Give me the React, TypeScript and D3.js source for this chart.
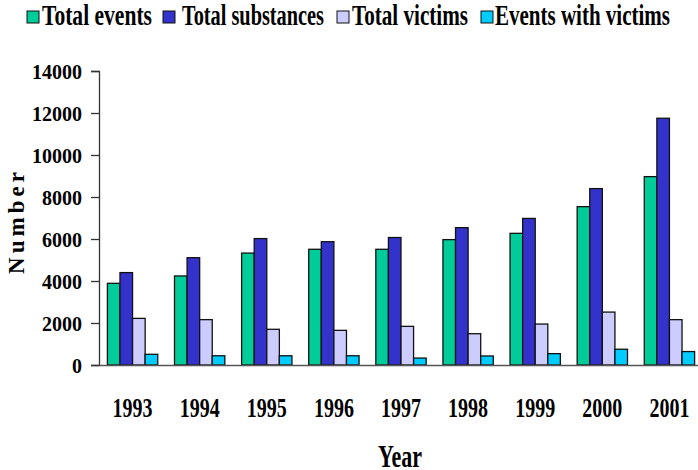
import React, { useEffect, useRef } from "react";
import * as d3 from "d3";

const years = ["1993", "1994", "1995", "1996", "1997", "1998", "1999", "2000", "2001"];
const seriesNames = ["Total events", "Total substances", "Total victims", "Events with victims"];
const totalEvents = [3890, 4240, 5330, 5510, 5510, 5970, 6270, 7540, 8970];
const totalSubstances = [4400, 5110, 6020, 5870, 6070, 6540, 6980, 8400, 11750];
const totalVictims = [2220, 2160, 1700, 1650, 1840, 1490, 1950, 2520, 2160];
const eventsWithVictims = [510, 440, 440, 440, 330, 430, 540, 750, 640];
const yTicks = [0, 2000, 4000, 6000, 8000, 10000, 12000, 14000];
const colors = ["#00CC99", "#3333CC", "#CCCCFF", "#00CCFF"];

const App = () => {
  const svgRef = useRef<SVGSVGElement>(null);

  useEffect(() => {
    const width = 698,
      height = 470;
    const font = "'Liberation Serif', 'Times New Roman', serif";

    const svg = d3.select(svgRef.current);
    svg.selectAll("*").remove();
    svg.attr("width", width).attr("height", height);

    const values = [totalEvents, totalSubstances, totalVictims, eventsWithVictims];

    const x = d3
      .scaleBand()
      .domain(years)
      .range([99, 703])
      .paddingInner(0.25)
      .paddingOuter(0.125);

    const xSub = d3
      .scaleBand()
      .domain(seriesNames)
      .range([0, x.bandwidth()])
      .padding(0);

    const y = d3.scaleLinear().domain([0, 14000]).range([365, 71]);

    // bars
    const groups = svg
      .append("g")
      .selectAll("g")
      .data(years)
      .join("g")
      .attr("transform", (d) => `translate(${x(d)},0)`);

    groups
      .selectAll("rect")
      .data((d) => seriesNames.map((s, j) => ({ s, v: values[j][years.indexOf(d)], j })))
      .join("rect")
      .attr("x", (d) => xSub(d.s)!)
      .attr("y", (d) => y(d.v))
      .attr("width", xSub.bandwidth())
      .attr("height", (d) => y(0) - y(d.v))
      .attr("fill", (d) => colors[d.j])
      .attr("stroke", "#111")
      .attr("stroke-width", 1.3);

    // y axis
    const yAxis = svg
      .append("g")
      .attr("transform", "translate(99,0)")
      .call(d3.axisLeft(y).tickValues(yTicks).tickSize(8).tickFormat(d3.format("d")));
    yAxis.select(".domain").attr("stroke", "#333").attr("stroke-width", 1.3);
    yAxis.selectAll(".tick line").attr("stroke", "#333").attr("stroke-width", 1.3);
    yAxis
      .selectAll(".tick text")
      .attr("x", -17)
      .attr("dy", "0.36em")
      .attr("font-family", font)
      .attr("font-weight", "bold")
      .attr("font-size", 22)
      .attr("textLength", (d: any) => String(d).length * 10)
      .attr("lengthAdjust", "spacingAndGlyphs")
      .attr("fill", "#000");

    // x axis
    const xAxis = svg
      .append("g")
      .attr("transform", "translate(0,365)")
      .call(d3.axisBottom(x).tickSize(0).tickPadding(0));
    xAxis.select(".domain").attr("stroke", "#555").attr("stroke-width", 1.5);
    xAxis
      .selectAll(".tick text")
      .attr("dy", 0)
      .attr("y", 52)
      .attr("font-family", font)
      .attr("font-weight", "bold")
      .attr("font-size", 28)
      .attr("textLength", 40)
      .attr("lengthAdjust", "spacingAndGlyphs")
      .attr("fill", "#000");

    // axis titles
    svg
      .append("text")
      .attr("x", 400)
      .attr("y", 467)
      .attr("text-anchor", "middle")
      .attr("font-family", font)
      .attr("font-weight", "bold")
      .attr("font-size", 32)
      .attr("textLength", 44)
      .attr("lengthAdjust", "spacingAndGlyphs")
      .text("Year");

    svg
      .append("text")
      .attr("transform", "translate(24,221) rotate(-90)")
      .attr("text-anchor", "middle")
      .attr("font-family", font)
      .attr("font-weight", "bold")
      .attr("font-size", 23)
      .attr("letter-spacing", 4)
      .text("Number");

    // legend
    const legendBox = [27, 163, 337, 481];
    const legendText = [42, 182, 352, 495];
    const legendWidth = [110, 142, 116, 175];
    const legend = svg
      .append("g")
      .selectAll("g")
      .data(seriesNames)
      .join("g");
    legend
      .append("rect")
      .attr("x", (d, i) => legendBox[i])
      .attr("y", 11)
      .attr("width", 12)
      .attr("height", 12)
      .attr("fill", (d, i) => colors[i])
      .attr("stroke", "#111")
      .attr("stroke-width", 1);
    legend
      .append("text")
      .attr("x", (d, i) => legendText[i])
      .attr("y", 25)
      .attr("font-family", font)
      .attr("font-weight", "bold")
      .attr("font-size", 29)
      .attr("textLength", (d, i) => legendWidth[i])
      .attr("lengthAdjust", "spacingAndGlyphs")
      .text((d) => d);
  }, []);

  return (
    <svg
      ref={svgRef}
      style={{ position: "absolute", left: 0, top: 0, background: "#fff" }}
    ></svg>
  );
};

export default App;
